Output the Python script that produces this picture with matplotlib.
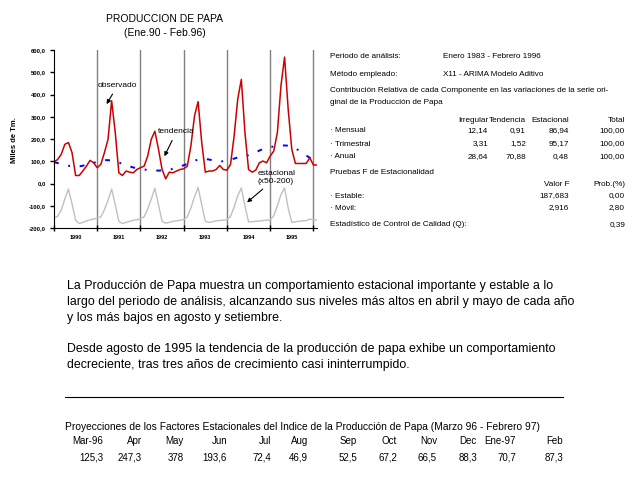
import matplotlib
matplotlib.use("Agg")
import matplotlib.pyplot as plt
import numpy as np

plt.rcParams['font.family'] = ['Liberation Sans', 'DejaVu Sans']

## Data (monthly, Jan 1990 - Feb 1996)
years = ["1990", "1991", "1992", "1993", "1994", "1995"]

observado = [96, 108, 131, 176, 184, 139, 36, 36, 56, 78, 104, 93,
             71, 86, 139, 199, 372, 229, 48, 36, 56, 51, 48, 63,
             71, 78, 123, 199, 235, 154, 63, 21, 51, 48, 56, 63,
             66, 78, 169, 304, 368, 184, 51, 56, 56, 63, 81, 63,
             60, 86, 214, 380, 468, 229, 63, 51, 60, 93, 101, 93,
             123, 146, 229, 440, 568, 334, 154, 90, 90, 90, 90, 116,
             83, 83]

tendencia = [96, 92, 88, 84, 80, 76, 75, 77, 80, 84, 89, 93,
             98, 102, 105, 105, 103, 99, 94, 88, 82, 77, 72, 69,
             66, 63, 61, 59, 58, 58, 59, 60, 62, 66, 71, 76,
             82, 88, 95, 102, 108, 110, 110, 108, 104, 100, 99, 100,
             103, 107, 112, 117, 121, 124, 127, 132, 140, 148, 155, 160,
             164, 166, 168, 170, 171, 170, 166, 158, 148, 137, 126, 116,
             108, 100]

estacional = [-155, -148, -120, -70, -25, -90, -165, -180, -175, -168, -163, -160,
              -155, -150, -118, -75, -25, -95, -170, -180, -175, -170, -165, -163,
              -158, -150, -115, -70, -22, -95, -170, -178, -175, -170, -168, -165,
              -162, -150, -110, -60, -18, -95, -170, -175, -172, -168, -166, -165,
              -163, -148, -105, -55, -20, -100, -172, -172, -170, -168, -167, -165,
              -163, -145, -100, -50, -20, -110, -175, -172, -170, -168, -167, -160,
              -162, -165]

# Contribucion relativa table
periodos = ["· Mensual", "· Trimestral", "· Anual"]
irregular = ["12,14", "3,31", "28,64"]
tend_pct = ["0,91", "1,52", "70,88"]
estac_pct = ["86,94", "95,17", "0,48"]
total_pct = ["100,00", "100,00", "100,00"]

pruebas = ["· Estable:", "· Móvil:"]
valor_f = ["187,683", "2,916"]
prob = ["0,00", "2,80"]

# Projections
meses = ["Mar-96", "Apr", "May", "Jun", "Jul", "Aug", "Sep", "Oct", "Nov",
         "Dec", "Ene-97", "Feb"]
proyeccion = ["125,3", "247,3", "378", "193,6", "72,4", "46,9", "52,5", "67,2",
              "66,5", "88,3", "70,7", "87,3"]


W, H = 640, 480
fig = plt.figure(figsize=(6.4, 4.8), dpi=100)

def fx(px):
    return px / W

def fy(py):
    return 1 - py / H

ax = fig.add_axes([fx(54), fy(228), fx(317) - fx(54), fy(50) - fy(228)])
t = np.arange(len(observado))

ax.plot(t, estacional, color="#c0c0c0", lw=1)
ax.plot(t, tendencia, color="#0000ff", lw=1.4, linestyle=(0, (2.5, 5, 1, 5)))
ax.plot(t, observado, color="#cc0000", lw=1.1)

ax.set_xlim(0, 73)
ax.set_ylim(-200, 600)
for k in range(1, 7):
    ax.axvline(12 * k, color="#808080", lw=1, zorder=0)

ax.spines["top"].set_visible(False)
ax.spines["right"].set_visible(False)
ax.set_xticks(np.arange(0, 73, 12))
ax.set_xticklabels([])
ax.tick_params(axis="x", which="major", direction="inout", length=5, width=1)
ax.set_xticks(np.arange(6, 73, 12), minor=True)
ax.set_xticklabels(years, minor=True, fontsize=4, fontweight="bold")
ax.tick_params(axis="x", which="minor", length=0, pad=5)
ax.set_yticks(np.arange(-200, 601, 100))
ax.set_yticklabels([f"{v},0" for v in range(-200, 601, 100)], fontsize=4.2,
                   fontweight="bold")
ax.tick_params(axis="y", length=3, width=1, pad=3)

arrow = dict(arrowstyle="-|>", color="black", lw=0.8, mutation_scale=6)
ax.annotate("observado", xy=(14.2, 346), xytext=(12.2, 441), fontsize=6,
            va="center", arrowprops=arrow)
ax.annotate("tendencia", xy=(30.3, 111), xytext=(28.9, 233), fontsize=6,
            va="center", arrowprops=arrow)
ax.annotate("estacional\n(x50-200)", xy=(53, -93), xytext=(56.6, 29),
            fontsize=6, va="center", arrowprops=arrow)

fig.text(fx(15), fy(140), "Miles de Tm.", rotation=90, fontsize=5.5,
         fontweight="bold", ha="center", va="center")
fig.text(fx(165), fy(19), "PRODUCCION DE PAPA", fontsize=7.5, ha="center",
         va="center")
fig.text(fx(165), fy(33), "(Ene.90 - Feb.96)", fontsize=7.5, ha="center",
         va="center")

# Right side info
fs = 5.9
fig.text(fx(330), fy(56), "Periodo de análisis:", fontsize=fs, va="center")
fig.text(fx(443), fy(56), "Enero 1983 - Febrero 1996", fontsize=fs, va="center")
fig.text(fx(330), fy(74), "Método empleado:", fontsize=fs, va="center")
fig.text(fx(443), fy(74), "X11 - ARIMA Modelo Aditivo", fontsize=fs, va="center")
fig.text(fx(330), fy(91), "Contribución Relativa de cada Componente en las "
         "variaciones de la serie ori-", fontsize=fs, va="center")
fig.text(fx(330), fy(102), "ginal de la Producción de Papa", fontsize=fs,
         va="center")

cols = [488, 526, 569, 625]
for c, h in zip(cols, ["Irregular", "Tendencia", "Estacional", "Total"]):
    fig.text(fx(c), fy(120), h, fontsize=fs, va="center", ha="right")
for i, p in enumerate(periodos):
    y = 131 + i * 13
    fig.text(fx(330), fy(y), p, fontsize=fs, va="center")
    for c, v in zip(cols, [irregular[i], tend_pct[i], estac_pct[i],
                           total_pct[i]]):
        fig.text(fx(c), fy(y), v, fontsize=fs, va="center", ha="right")

fig.text(fx(330), fy(172), "Pruebas F de Estacionalidad", fontsize=fs,
         va="center")
fig.text(fx(569), fy(184), "Valor F", fontsize=fs, va="center", ha="right")
fig.text(fx(625), fy(184), "Prob.(%)", fontsize=fs, va="center", ha="right")
for i, p in enumerate(pruebas):
    y = 196 + i * 12
    fig.text(fx(330), fy(y), p, fontsize=fs, va="center")
    fig.text(fx(569), fy(y), valor_f[i], fontsize=fs, va="center", ha="right")
    fig.text(fx(625), fy(y), prob[i], fontsize=fs, va="center", ha="right")
fig.text(fx(330), fy(225), "Estadístico de Control de Calidad (Q):",
         fontsize=fs, va="center")
fig.text(fx(625), fy(225), "0,39", fontsize=fs, va="center", ha="right")

# Comment paragraphs
parrafo = ["La Producción de Papa muestra un comportamiento estacional importante y estable a lo",
           "largo del periodo de análisis, alcanzando sus niveles más altos en abril y mayo de cada año",
           "y los más bajos en agosto y setiembre.",
           "",
           "Desde agosto de 1995 la tendencia de la producción de papa exhibe un comportamiento",
           "decreciente, tras tres años de crecimiento casi ininterrumpido."]
for i, linea in enumerate(parrafo):
    fig.text(fx(67), fy(286 + i * 15.8), linea, fontsize=8.9, va="center")

fig.add_artist(plt.Line2D([fx(65), fx(563)], [fy(397), fy(397)], color="black",
                          lw=0.8))

fig.text(fx(65), fy(427), "Proyecciones de los Factores Estacionales del "
         "Indice de la Producción de Papa (Marzo 96 - Febrero 97)",
         fontsize=7.4, va="center")
right_edges = [103, 142, 184, 227, 271, 308, 357, 397, 437, 477, 516, 563]
for m, v, r in zip(meses, proyeccion, right_edges):
    fig.text(fx(r), fy(441), m, fontsize=7, va="center", ha="right")
    fig.text(fx(r), fy(458), v, fontsize=7, va="center", ha="right")

fig.savefig("out.png", dpi=100, facecolor="white")
